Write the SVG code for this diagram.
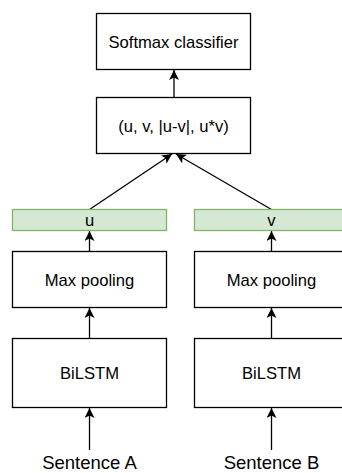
<svg xmlns="http://www.w3.org/2000/svg" width="342" height="473" viewBox="0 0 342 473">
  <style>
    .box { fill: #ffffff; stroke: #000000; stroke-width: 1.3; }
    .vec { fill: #d5e8d4; stroke: #82b366; stroke-width: 1.3; }
    .lbl { font-family: "Liberation Sans", Arial, Helvetica, sans-serif; font-size: 16.6px; fill: #000000; text-anchor: middle; }
    .inp { font-family: "Liberation Sans", Arial, Helvetica, sans-serif; font-size: 18.5px; fill: #000000; text-anchor: middle; }
    .edge { fill: none; stroke: #000000; stroke-width: 1.3; }
  </style>
  <defs>
    <marker id="arrow" viewBox="0 0 10 10" refX="10" refY="5" markerWidth="10" markerHeight="10" markerUnits="userSpaceOnUse" orient="auto">
      <path d="M10,5 L0,0 L2.5,5 L0,10 Z" fill="#000000"/>
    </marker>
  </defs>
  <rect width="342" height="473" fill="#ffffff"/>

  <g id="edges">
    <line class="edge" x1="174" y1="97.5" x2="174" y2="70" marker-end="url(#arrow)"/>
    <line class="edge" x1="89.5" y1="209.5" x2="172" y2="154" marker-end="url(#arrow)"/>
    <line class="edge" x1="271.5" y1="209.5" x2="176" y2="154" marker-end="url(#arrow)"/>
    <line class="edge" x1="89.5" y1="251.5" x2="89.5" y2="231" marker-end="url(#arrow)"/>
    <line class="edge" x1="271.5" y1="251.5" x2="271.5" y2="231" marker-end="url(#arrow)"/>
    <line class="edge" x1="89.5" y1="338.5" x2="89.5" y2="308" marker-end="url(#arrow)"/>
    <line class="edge" x1="271.5" y1="338.5" x2="271.5" y2="308" marker-end="url(#arrow)"/>
    <line class="edge" x1="89.5" y1="450" x2="89.5" y2="408" marker-end="url(#arrow)"/>
    <line class="edge" x1="271.5" y1="450" x2="271.5" y2="408" marker-end="url(#arrow)"/>
  </g>

  <g id="softmax">
    <rect class="box" x="96.5" y="13.5" width="154" height="56"/>
    <text class="lbl" x="173.5" y="47.5">Softmax classifier</text>
  </g>
  <g id="concat">
    <rect class="box" x="96.5" y="97.5" width="154" height="56"/>
    <text class="lbl" x="173.5" y="131.5">(u, v, |u-v|, u*v)</text>
  </g>
  <g id="vec-u">
    <rect class="vec" x="12.5" y="209.5" width="154" height="21"/>
    <text class="lbl" x="89.5" y="226">u</text>
  </g>
  <g id="vec-v">
    <rect class="vec" x="194.5" y="209.5" width="154" height="21"/>
    <text class="lbl" x="271.5" y="226">v</text>
  </g>
  <g id="pool-a">
    <rect class="box" x="12.5" y="251.5" width="154" height="56"/>
    <text class="lbl" x="89.5" y="285.5">Max pooling</text>
  </g>
  <g id="pool-b">
    <rect class="box" x="194.5" y="251.5" width="154" height="56"/>
    <text class="lbl" x="271.5" y="285.5">Max pooling</text>
  </g>
  <g id="bilstm-a">
    <rect class="box" x="12.5" y="338.5" width="154" height="69"/>
    <text class="lbl" x="89.5" y="379">BiLSTM</text>
  </g>
  <g id="bilstm-b">
    <rect class="box" x="194.5" y="338.5" width="154" height="69"/>
    <text class="lbl" x="271.5" y="379">BiLSTM</text>
  </g>
  <g id="sentence-a">
    <text class="inp" x="89.5" y="468.5">Sentence A</text>
  </g>
  <g id="sentence-b">
    <text class="inp" x="271.5" y="468.5">Sentence B</text>
  </g>
</svg>
